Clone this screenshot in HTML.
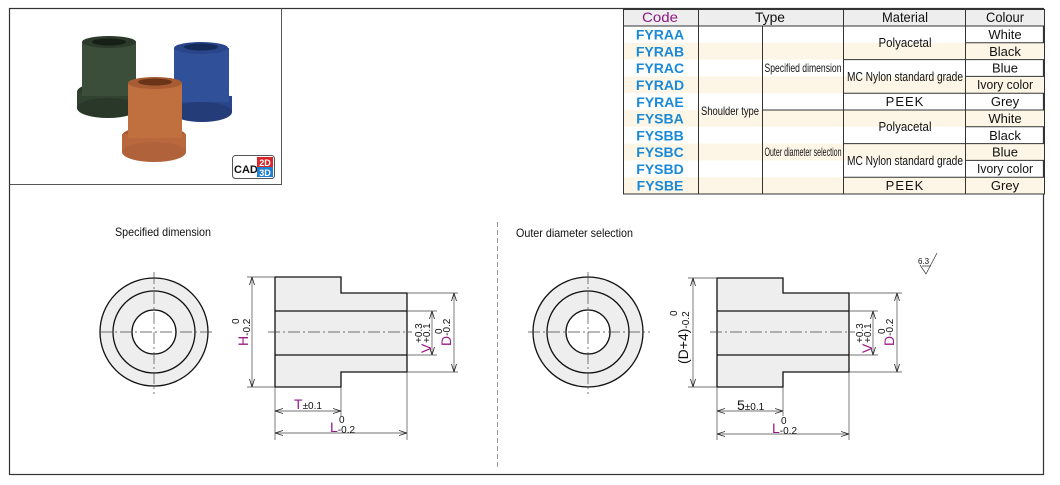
<!DOCTYPE html>
<html><head><meta charset="utf-8"><style>
body{margin:0;background:#fff;}
svg{display:block;font-family:"Liberation Sans",sans-serif;}
</style></head><body>
<svg width="1060" height="485" viewBox="0 0 1060 485" xmlns="http://www.w3.org/2000/svg">
<defs>
<marker id="a" markerWidth="8" markerHeight="6" refX="8" refY="3" orient="auto" markerUnits="userSpaceOnUse"><path d="M0,0.5 L8,3 L0,5.5" fill="none" stroke="#222" stroke-width="0.8"/></marker>
<marker id="b" markerWidth="8" markerHeight="6" refX="0" refY="3" orient="auto" markerUnits="userSpaceOnUse"><path d="M8,0.5 L0,3 L8,5.5" fill="none" stroke="#222" stroke-width="0.8"/></marker>
</defs>
<rect x="9.5" y="8.5" width="1034" height="466" fill="none" stroke="#333" stroke-width="1.2"/>
<path d="M9.5 184.5 H281.5 V8.5" fill="none" stroke="#555" stroke-width="1"/>
<g>
 <ellipse cx="108" cy="92" rx="31" ry="10" fill="#2c3a2c"/>
 <rect x="77" y="92" width="62" height="16" fill="#314231"/>
 <ellipse cx="108" cy="108" rx="31" ry="10" fill="#2a382a"/>
 <rect x="82" y="42" width="54" height="54" fill="#3a4e3a"/>
 <ellipse cx="109" cy="42" rx="27" ry="6" fill="#2c3a2c"/>
 <ellipse cx="109" cy="42" rx="17" ry="3.5" fill="#162016"/>
 <ellipse cx="202" cy="100" rx="30" ry="10" fill="#233b72"/>
 <rect x="172" y="96" width="60" height="16" fill="#2a468a"/>
 <ellipse cx="202" cy="112" rx="30" ry="10" fill="#243c78"/>
 <rect x="174" y="48" width="55" height="54" fill="#30509a"/>
 <ellipse cx="201" cy="48" rx="27" ry="6" fill="#2a468a"/>
 <ellipse cx="201" cy="47" rx="17" ry="3.5" fill="#152b5a"/>
 <ellipse cx="154" cy="136" rx="32" ry="10" fill="#a85c33"/>
 <rect x="122" y="134" width="64" height="18" fill="#b8683c"/>
 <ellipse cx="154" cy="152" rx="32" ry="10" fill="#b0633a"/>
 <rect x="128" y="83" width="54" height="55" fill="#c0703f"/>
 <ellipse cx="155" cy="83" rx="27" ry="6" fill="#a85c33"/>
 <ellipse cx="155" cy="82" rx="17" ry="3.5" fill="#6a3418"/>
 <rect x="232.5" y="155.5" width="42" height="23" rx="3" fill="#fff" stroke="#555"/>
 <text x="234" y="173" font-size="11" font-weight="bold" fill="#111">CAD</text>
 <rect x="257" y="157" width="16" height="10" fill="#d9262a"/>
 <rect x="257" y="167" width="16" height="10" fill="#1f7fd0"/>
 <text x="265" y="166" font-size="9" font-weight="bold" fill="#fff" text-anchor="middle">2D</text>
 <text x="265" y="176" font-size="9" font-weight="bold" fill="#fff" text-anchor="middle">3D</text>
</g>
<g font-size="12">
 <rect x="623" y="9" width="421" height="17" fill="#eeeeee"/>
 <rect x="623" y="42.8" width="421" height="16.8" fill="#fdf6e6"/>
 <rect x="623" y="76.4" width="421" height="16.8" fill="#fdf6e6"/>
 <rect x="623" y="110" width="421" height="16.8" fill="#fdf6e6"/>
 <rect x="623" y="143.6" width="421" height="16.8" fill="#fdf6e6"/>
 <rect x="623" y="177.2" width="421" height="16.8" fill="#fdf6e6"/>
 <g stroke="#333" stroke-width="1" fill="none">
  <rect x="623.5" y="9.5" width="421" height="184.5"/>
  <line x1="623" y1="26" x2="1044" y2="26"/>
  <line x1="698.5" y1="9" x2="698.5" y2="194"/>
  <line x1="762.5" y1="26" x2="762.5" y2="194"/>
  <line x1="762" y1="110" x2="844" y2="110"/>
  <line x1="843.5" y1="9" x2="843.5" y2="194"/>
  <line x1="965.5" y1="9" x2="965.5" y2="194"/>
  <line x1="844" y1="59.6" x2="1044" y2="59.6"/>
  <line x1="844" y1="93.2" x2="1044" y2="93.2"/>
  <line x1="844" y1="110" x2="1044" y2="110"/>
  <line x1="844" y1="143.6" x2="1044" y2="143.6"/>
  <line x1="844" y1="177.2" x2="1044" y2="177.2"/>
  <line x1="965" y1="42.8" x2="1044" y2="42.8"/>
  <line x1="965" y1="76.4" x2="1044" y2="76.4"/>
  <line x1="965" y1="126.8" x2="1044" y2="126.8"/>
  <line x1="965" y1="160.4" x2="1044" y2="160.4"/>
 </g>
 <text x="660" y="22" text-anchor="middle" fill="#8a1a80" font-size="14" textLength="36" lengthAdjust="spacingAndGlyphs">Code</text>
 <text x="770" y="22" text-anchor="middle" fill="#111" font-size="14" textLength="30" lengthAdjust="spacingAndGlyphs">Type</text>
 <text x="905" y="22" text-anchor="middle" fill="#111" font-size="14" textLength="46" lengthAdjust="spacingAndGlyphs">Material</text>
 <text x="1005" y="22" text-anchor="middle" fill="#111" font-size="14" textLength="38" lengthAdjust="spacingAndGlyphs">Colour</text>
 <g fill="#1a8ad8" font-weight="bold" font-size="14" text-anchor="middle">
  <text x="660" y="39.5">FYRAA</text><text x="660" y="56.5">FYRAB</text><text x="660" y="73">FYRAC</text><text x="660" y="90">FYRAD</text><text x="660" y="107">FYRAE</text>
  <text x="660" y="123.5">FYSBA</text><text x="660" y="140.5">FYSBB</text><text x="660" y="157">FYSBC</text><text x="660" y="174">FYSBD</text><text x="660" y="190.5">FYSBE</text>
 </g>
 <g fill="#111" text-anchor="middle" font-size="13">
  <text x="730" y="115" font-size="12" textLength="58" lengthAdjust="spacingAndGlyphs">Shoulder type</text>
  <text x="803" y="72" font-size="12" textLength="77" lengthAdjust="spacingAndGlyphs">Specified dimension</text>
  <text x="803" y="156" font-size="12" textLength="77" lengthAdjust="spacingAndGlyphs">Outer diameter selection</text>
  <text x="905" y="47" textLength="53" lengthAdjust="spacingAndGlyphs">Polyacetal</text>
  <text x="905" y="81" textLength="116" lengthAdjust="spacingAndGlyphs">MC Nylon standard grade</text>
  <text x="905" y="106" letter-spacing="1">PEEK</text>
  <text x="905" y="131" textLength="53" lengthAdjust="spacingAndGlyphs">Polyacetal</text>
  <text x="905" y="165" textLength="116" lengthAdjust="spacingAndGlyphs">MC Nylon standard grade</text>
  <text x="905" y="190" letter-spacing="1">PEEK</text>
  <text x="1005" y="39">White</text><text x="1005" y="56">Black</text><text x="1005" y="72.5">Blue</text><text x="1005" y="89" textLength="56" lengthAdjust="spacingAndGlyphs">Ivory color</text><text x="1005" y="106">Grey</text>
  <text x="1005" y="123">White</text><text x="1005" y="140">Black</text><text x="1005" y="156.5">Blue</text><text x="1005" y="173" textLength="56" lengthAdjust="spacingAndGlyphs">Ivory color</text><text x="1005" y="190">Grey</text>
 </g>
</g>
<line x1="497.5" y1="222" x2="497.5" y2="470" stroke="#999" stroke-dasharray="5,3"/>
<text x="115" y="236" font-size="12" fill="#111" textLength="96" lengthAdjust="spacingAndGlyphs">Specified dimension</text>
<text x="516" y="237" font-size="12" fill="#111" textLength="117" lengthAdjust="spacingAndGlyphs">Outer diameter selection</text>
<g stroke="#111" stroke-width="1.3" fill="#eeeeee">
 <circle cx="154" cy="332" r="54"/>
 <circle cx="154" cy="332" r="41"/>
 <circle cx="154" cy="332" r="22" fill="#fff"/>
 <path d="M275 277 H341 V293 H407 V372 H341 V387 H275 Z"/>
 <line x1="275" y1="311" x2="407" y2="311"/>
 <line x1="275" y1="355" x2="407" y2="355"/>
</g>
<g stroke="#444" stroke-width="0.7" fill="none">
 <line x1="100" y1="332" x2="215" y2="332" stroke-dasharray="12,3,2,3"/>
 <line x1="154" y1="272" x2="154" y2="394" stroke-dasharray="12,3,2,3"/>
 <line x1="268" y1="332" x2="412" y2="332" stroke-dasharray="12,3,2,3"/>
 <line x1="247" y1="277" x2="275" y2="277"/><line x1="247" y1="387" x2="275" y2="387"/>
 <line x1="252" y1="277" x2="252" y2="387" marker-start="url(#b)" marker-end="url(#a)"/>
 <line x1="407" y1="311" x2="437" y2="311"/><line x1="407" y1="355" x2="437" y2="355"/>
 <line x1="432" y1="311" x2="432" y2="355" marker-start="url(#b)" marker-end="url(#a)"/>
 <line x1="407" y1="293" x2="458" y2="293"/><line x1="407" y1="372" x2="458" y2="372"/>
 <line x1="454" y1="293" x2="454" y2="372" marker-start="url(#b)" marker-end="url(#a)"/>
 <line x1="275" y1="387" x2="275" y2="440"/><line x1="341" y1="387" x2="341" y2="416"/><line x1="407" y1="372" x2="407" y2="440"/>
 <line x1="275" y1="411" x2="341" y2="411" marker-start="url(#b)" marker-end="url(#a)"/>
 <line x1="275" y1="433" x2="407" y2="433" marker-start="url(#b)" marker-end="url(#a)"/>
</g>
<g font-size="14" fill="#9a1a8a">
 <text transform="translate(248,346) rotate(-90)">H<tspan fill="#111" font-size="10" dy="2">-0.2</tspan></text>
 <text transform="translate(239,324) rotate(-90)" fill="#111" font-size="10">0</text>
 <text transform="translate(431,353) rotate(-90)">V</text>
 <text transform="translate(422,343) rotate(-90)" fill="#111" font-size="10">+0.3</text>
 <text transform="translate(430,343) rotate(-90)" fill="#111" font-size="10">+0.1</text>
 <text transform="translate(451,346) rotate(-90)">D<tspan fill="#111" font-size="10" dy="-1">-0.2</tspan></text>
 <text transform="translate(442,334) rotate(-90)" fill="#111" font-size="10">0</text>
 <text x="294" y="409">T<tspan fill="#111" font-size="10">±0.1</tspan></text>
 <text x="330" y="432">L<tspan fill="#111" font-size="10" dy="1">-0.2</tspan></text>
 <text x="339" y="423" fill="#111" font-size="10">0</text>
</g>
<g stroke="#111" stroke-width="1.3" fill="#eeeeee">
 <circle cx="588" cy="332" r="55"/>
 <circle cx="588" cy="332" r="41"/>
 <circle cx="588" cy="332" r="22" fill="#fff"/>
 <path d="M717 278 H783 V293 H849 V372 H783 V387 H717 Z"/>
 <line x1="717" y1="311" x2="849" y2="311"/>
 <line x1="717" y1="355" x2="849" y2="355"/>
</g>
<g stroke="#444" stroke-width="0.7" fill="none">
 <line x1="528" y1="332" x2="650" y2="332" stroke-dasharray="12,3,2,3"/>
 <line x1="588" y1="272" x2="588" y2="394" stroke-dasharray="12,3,2,3"/>
 <line x1="710" y1="332" x2="855" y2="332" stroke-dasharray="12,3,2,3"/>
 <line x1="688" y1="278" x2="717" y2="278"/><line x1="688" y1="387" x2="717" y2="387"/>
 <line x1="693" y1="278" x2="693" y2="387" marker-start="url(#b)" marker-end="url(#a)"/>
 <line x1="849" y1="311" x2="878" y2="311"/><line x1="849" y1="355" x2="878" y2="355"/>
 <line x1="873" y1="311" x2="873" y2="355" marker-start="url(#b)" marker-end="url(#a)"/>
 <line x1="849" y1="293" x2="902" y2="293"/><line x1="849" y1="372" x2="902" y2="372"/>
 <line x1="897" y1="293" x2="897" y2="372" marker-start="url(#b)" marker-end="url(#a)"/>
 <line x1="717" y1="387" x2="717" y2="440"/><line x1="783" y1="387" x2="783" y2="416"/><line x1="849" y1="372" x2="849" y2="440"/>
 <line x1="717" y1="411" x2="783" y2="411" marker-start="url(#b)" marker-end="url(#a)"/>
 <line x1="717" y1="434" x2="849" y2="434" marker-start="url(#b)" marker-end="url(#a)"/>
</g>
<g font-size="14" fill="#9a1a8a">
 <text transform="translate(688,364) rotate(-90)" fill="#111">(D+4)<tspan font-size="10" dy="1">-0.2</tspan></text>
 <text transform="translate(677,316) rotate(-90)" fill="#111" font-size="10">0</text>
 <text transform="translate(872,353) rotate(-90)">V</text>
 <text transform="translate(863,343) rotate(-90)" fill="#111" font-size="10">+0.3</text>
 <text transform="translate(871,343) rotate(-90)" fill="#111" font-size="10">+0.1</text>
 <text transform="translate(894,346) rotate(-90)">D<tspan fill="#111" font-size="10" dy="-1">-0.2</tspan></text>
 <text transform="translate(885,334) rotate(-90)" fill="#111" font-size="10">0</text>
 <text x="737" y="410" fill="#111">5<tspan font-size="10">±0.1</tspan></text>
 <text x="772" y="433">L<tspan fill="#111" font-size="10" dy="1">-0.2</tspan></text>
 <text x="781" y="424" fill="#111" font-size="10">0</text>
</g>
<text x="918" y="264" font-size="8" fill="#111">6.3</text>
<path d="M920 265 L926 274 L937 253 M922 266 H931" fill="none" stroke="#333" stroke-width="0.7"/>
</svg>
</body></html>
